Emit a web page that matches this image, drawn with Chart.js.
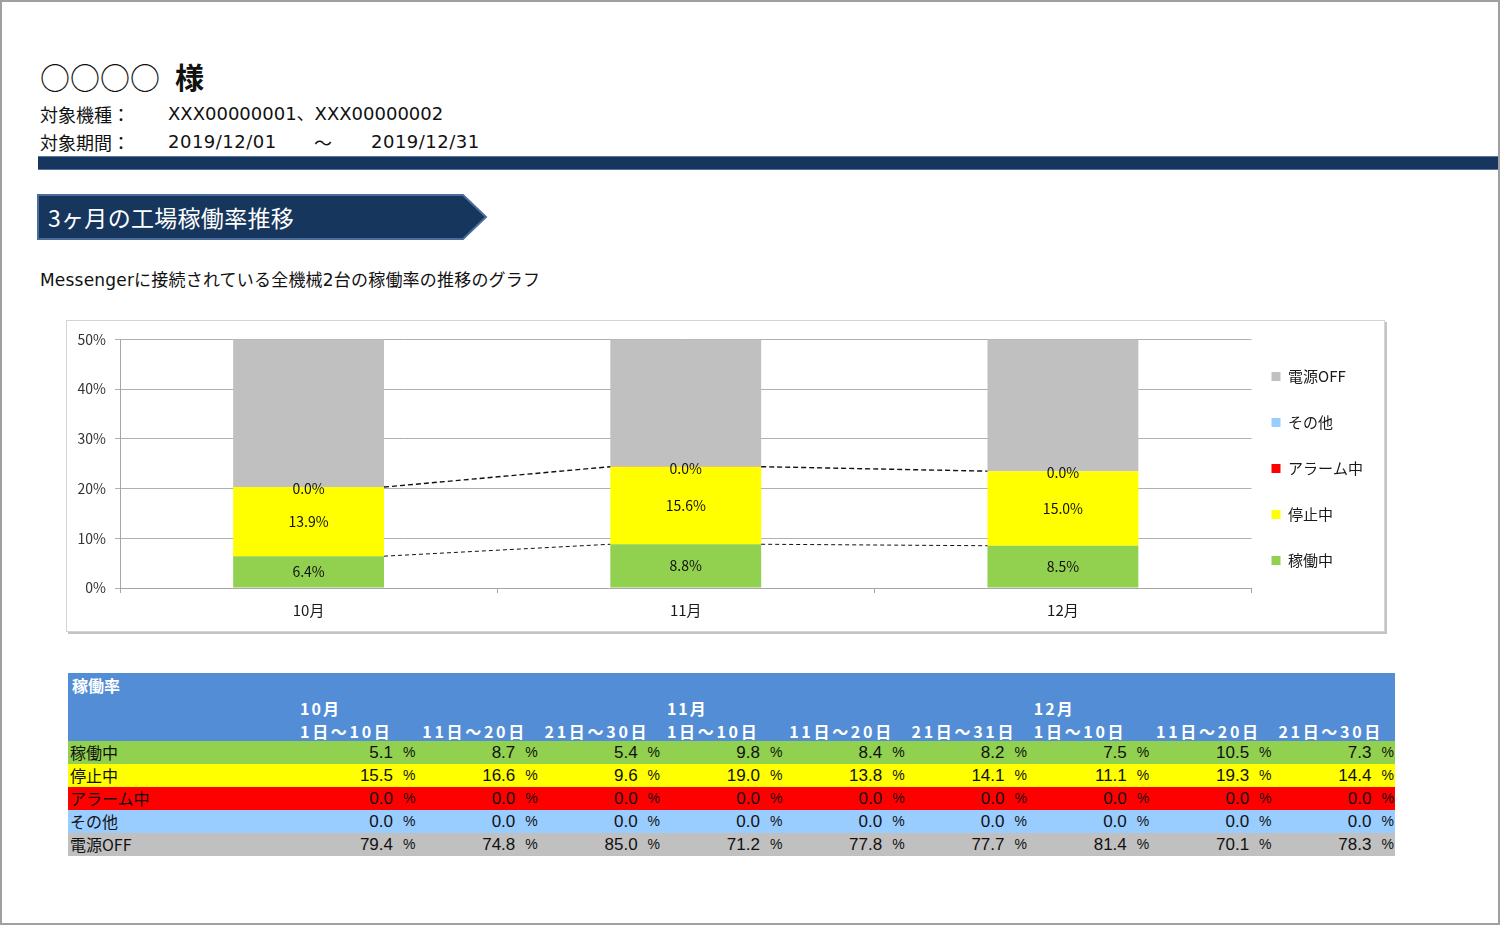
<!DOCTYPE html>
<html lang="ja">
<head>
<meta charset="utf-8">
<script src="https://cdn.jsdelivr.net/npm/chart.js@4.4.1/dist/chart.umd.min.js"></script>
<style>
  html, body { margin:0; padding:0; background:#fff; }
  body { width:1501px; height:926px; position:relative; overflow:hidden;
         font-family:"Noto Sans CJK JP","Noto Sans",sans-serif; color:#111; }
  .abs { position:absolute; white-space:nowrap; }
  .lat { font-family:"DejaVu Sans","Noto Sans CJK JP",sans-serif; }
  #frame { left:0; top:0; width:1500px; height:925px; box-sizing:border-box; border:2px solid #a0a0a0; }
  #band { left:38px; top:156px; width:1460px; height:14px; box-sizing:border-box;
          background:#17365d; border-top:1px solid #56749c; border-bottom:1px solid #56749c; }
  #chartBox { left:66px; top:320px; width:1319px; height:312px; box-sizing:border-box;
              border:1px solid #d4d4d4; box-shadow:2px 2px 0 #c4c4c4; background:#fff; }
  #chartWrap { left:68px; top:322px; width:1317px; height:310px; }
  .cell { position:absolute; white-space:nowrap; }
</style>
</head>
<body>
<div id="frame" class="abs"></div>

<div class="abs" style="left:40px;top:57px;font-size:30px;line-height:38px;">○○○○</div>
<div class="abs" style="left:175px;top:57px;font-size:29px;line-height:38px;font-weight:bold;">様</div>
<div class="abs" style="left:40px;top:102px;font-size:18px;line-height:24px;">対象機種：</div>
<div class="abs lat" style="left:168px;top:102px;font-size:18px;line-height:24px;">XXX00000001、XXX00000002</div>
<div class="abs" style="left:40px;top:130px;font-size:18px;line-height:24px;">対象期間：</div>
<div class="abs lat" style="left:168px;top:130px;font-size:18px;line-height:24px;letter-spacing:0.5px;">2019/12/01</div>
<div class="abs" style="left:314px;top:130px;font-size:18px;line-height:24px;">～</div>
<div class="abs lat" style="left:371px;top:130px;font-size:18px;line-height:24px;letter-spacing:0.5px;">2019/12/31</div>
<div id="band" class="abs"></div>

<svg class="abs" style="left:0;top:0;" width="600" height="260">
  <polygon points="38,195 463,195 486,217 463,239 38,239" fill="#17365d" stroke="#4b6d9c" stroke-width="2"/>
</svg>
<div class="abs" style="left:48px;top:201px;font-size:23px;line-height:32px;color:#fff;letter-spacing:0.3px;">3ヶ月の工場稼働率推移</div>

<div class="abs lat" style="left:40px;top:268px;font-size:17px;line-height:24px;color:#111;letter-spacing:0.2px;">Messengerに接続されている全機械2台の稼働率の推移のグラフ</div>

<div id="chartBox" class="abs"></div>
<div id="chartWrap" class="abs"><canvas id="c" width="1317" height="310"></canvas></div>

<div id="table" class="abs" style="left:68px;top:673px;width:1327px;height:184px;"></div>

<script>
// ---------- chart data ----------
const categories = ['10月', '11月', '12月'];
const seriesNames = ['稼働中', '停止中', 'アラーム中', 'その他', '電源OFF'];
const running = [6.4, 8.8, 8.5];
const stopped = [13.9, 15.6, 15.0];
const alarm   = [0.0, 0.04, 0.0];
const other   = [0.0, 0.0, 0.0];
const powerOff = [79.7, 75.6, 76.5];
const yTicks = [0, 10, 20, 30, 40, 50];

// ---------- table data ----------
const tableTitle = '稼働率';
const tableMonths = ['10月', '11月', '12月'];
const tableRanges = ['1日～10日','11日～20日','21日～30日','1日～10日','11日～20日','21日～31日','1日～10日','11日～20日','21日～30日'];
const tRunning  = [5.1, 8.7, 5.4, 9.8, 8.4, 8.2, 7.5, 10.5, 7.3];
const tStopped  = [15.5, 16.6, 9.6, 19.0, 13.8, 14.1, 11.1, 19.3, 14.4];
const tAlarm    = [0.0, 0.0, 0.0, 0.0, 0.0, 0.0, 0.0, 0.0, 0.0];
const tOther    = [0.0, 0.0, 0.0, 0.0, 0.0, 0.0, 0.0, 0.0, 0.0];
const tPowerOff = [79.4, 74.8, 85.0, 71.2, 77.8, 77.7, 81.4, 70.1, 78.3];

const colors = ['#92d050', '#ffff00', '#ff0000', '#99ccff', '#c0c0c0'];
const FONT = '"Noto Sans CJK JP","Noto Sans",sans-serif';

// ---------- build table ----------
(function(){
  const t = document.getElementById('table');
  const rowsData = [tRunning, tStopped, tAlarm, tOther, tPowerOff];
  let html = '';
  html += '<div class="cell" style="left:0;top:0;width:1327px;height:68px;background:#538dd5;"></div>';
  html += '<div class="cell" style="left:4px;top:1px;line-height:22px;font-size:16px;font-weight:bold;color:#fff;">' + tableTitle + '</div>';
  const colStart = i => 225 + i * 122.3;
  tableMonths.forEach((m, k) => {
    html += '<div class="cell" style="left:' + (colStart(k*3) + 7) + 'px;top:24px;line-height:22px;font-size:16px;font-weight:bold;color:#fff;letter-spacing:2px;">' + m + '</div>';
  });
  tableRanges.forEach((r, i) => {
    html += '<div class="cell" style="left:' + (colStart(i) + 7) + 'px;top:47px;line-height:22px;font-size:16px;font-weight:bold;color:#fff;letter-spacing:2.7px;">' + r + '</div>';
  });
  rowsData.forEach((vals, r) => {
    const top = 68 + r * 23;
    html += '<div class="cell" style="left:0;top:' + top + 'px;width:1327px;height:23px;background:' + colors[r] + ';"></div>';
    html += '<div class="cell" style="left:2px;top:' + top + 'px;line-height:23px;font-size:16px;color:#111;">' + seriesNames[r] + '</div>';
    vals.forEach((v, i) => {
      const s = colStart(i);
      html += '<div class="cell" style="left:' + (s) + 'px;width:100px;text-align:right;top:' + top + 'px;line-height:23px;font-size:17px;font-family:\'Liberation Sans\',Arial,sans-serif;color:#111;">' + v.toFixed(1) + '</div>';
      html += '<div class="cell" style="left:' + (s + 110) + 'px;top:' + top + 'px;line-height:23px;font-size:14px;font-family:\'Liberation Sans\',Arial,sans-serif;color:#111;">%</div>';
    });
  });
  t.innerHTML = html;
})();

// ---------- plugins ----------
const labelPlugin = {
  id: 'segLabels',
  afterDatasetsDraw(chart) {
    const ctx = chart.ctx;
    ctx.save();
    ctx.font = '14px ' + FONT;
    ctx.fillStyle = '#111';
    ctx.textAlign = 'center';
    ctx.textBaseline = 'middle';
    [0, 1, 2].forEach(di => {
      const meta = chart.getDatasetMeta(di);
      meta.data.forEach((el, i) => {
        const v = chart.data.datasets[di].data[i];
        const y = (el.y + el.base) / 2 + (di === 2 ? 2 : 0);
        ctx.fillText(v.toFixed(1) + '%', el.x, y);
      });
    });
    ctx.restore();
  }
};

const seriesLinePlugin = {
  id: 'seriesLines',
  afterDatasetsDraw(chart) {
    const ctx = chart.ctx;
    ctx.save();
    [[0, 1, [4, 3]], [1, 1.4, [5, 3]]].forEach(([di, lw, dash]) => {
      const meta = chart.getDatasetMeta(di);
      ctx.lineWidth = lw;
      ctx.setLineDash(dash);
      ctx.strokeStyle = '#111';
      for (let i = 0; i < meta.data.length - 1; i++) {
        const a = meta.data[i], b = meta.data[i + 1];
        ctx.beginPath();
        ctx.moveTo(a.x + a.width / 2, a.y);
        ctx.lineTo(b.x - b.width / 2, b.y);
        ctx.stroke();
      }
    });
    ctx.restore();
  }
};

const legendShift = {
  id: 'legendShift',
  afterLayout(chart) {
    if (chart.legend) { chart.legend.left -= 11; chart.legend.right -= 11; }
  }
};

const datasetValues = [running, stopped, alarm, other, powerOff];

new Chart(document.getElementById('c'), {
  type: 'bar',
  data: {
    labels: categories,
    datasets: seriesNames.map((n, i) => ({
      label: n,
      data: datasetValues[i],
      backgroundColor: colors[i],
      borderWidth: 0,
      barPercentage: 0.4,
      categoryPercentage: 1.0
    }))
  },
  options: {
    responsive: false,
    animation: false,
    devicePixelRatio: 1,
    layout: { padding: { top: 16, left: 0, right: 1, bottom: 0 } },
    plugins: {
      tooltip: { enabled: false },
      legend: {
        position: 'right',
        reverse: true,
        align: 'start',
        labels: {
          boxWidth: 9, boxHeight: 9, padding: 31,
          font: { size: 15, family: FONT }, color: '#1a1a1a'
        }
      }
    },
    scales: {
      x: {
        stacked: true,
        grid: { offset: true, drawOnChartArea: false, drawTicks: true, tickLength: 5, color: '#a6a6a6' },
        border: { color: '#a6a6a6', width: 1 },
        ticks: { font: { size: 15, family: FONT }, color: '#1a1a1a', padding: 8 },
        afterFit(s) { s.height = 44; }
      },
      y: {
        stacked: true,
        min: 0, max: 50,
        afterBuildTicks(s) { s.ticks = yTicks.map(v => ({ value: v })); },
        grid: { color: '#b0b0b0', tickLength: 5 },
        border: { color: '#a6a6a6', width: 1 },
        ticks: { font: { size: 14, family: FONT }, color: '#333', padding: 9, callback: v => v + '%' },
        afterFit(s) { s.width = 52; }
      }
    }
  },
  plugins: [labelPlugin, seriesLinePlugin, legendShift]
});
</script>
</body>
</html>
